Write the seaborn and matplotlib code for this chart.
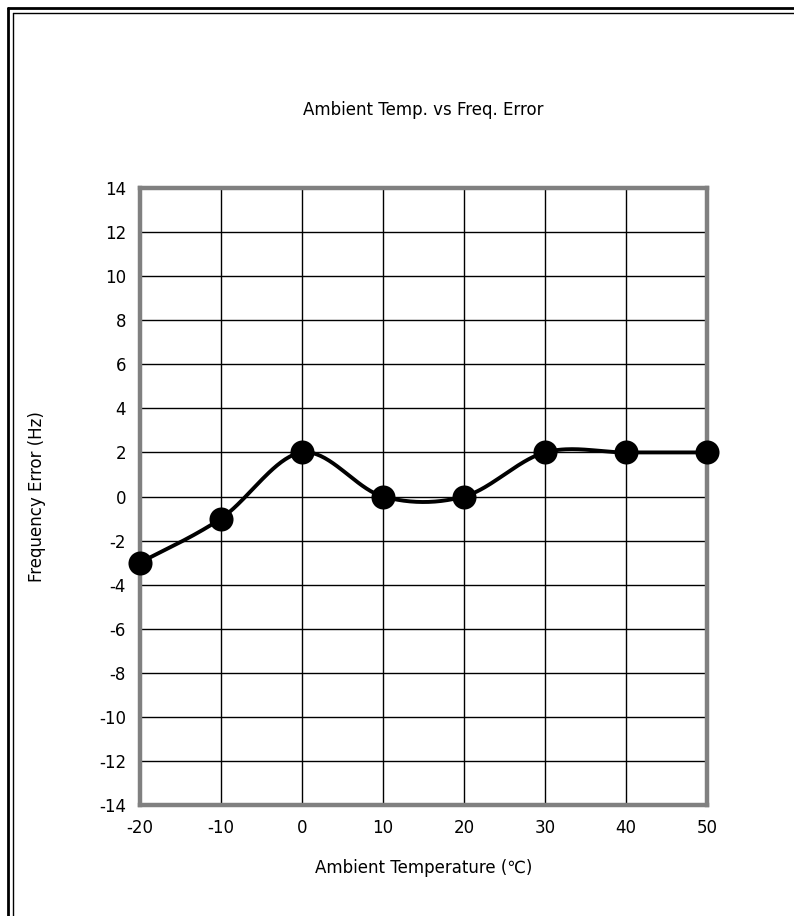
import numpy as np
import pandas as pd
import matplotlib
matplotlib.use("Agg")
import matplotlib.pyplot as plt
import seaborn as sns

temps = [-20, -10, 0, 10, 20, 30, 40, 50]
freq_error = [-3, -1, 2, 0, 0, 2, 2, 2]
x_ticks = [-20, -10, 0, 10, 20, 30, 40, 50]
y_ticks = list(range(-14, 15, 2))
title = "Ambient Temp. vs Freq. Error"
xlabel = "Ambient Temperature (\u2103)"
ylabel = "Frequency Error (Hz)"

def smooth_curve(xs, ys, n=40):
    # Excel-like smoothing: cubic Bezier with Catmull-Rom control points
    xs = np.asarray(xs, float); ys = np.asarray(ys, float)
    px = np.concatenate([[xs[0]], xs, [xs[-1]]])
    py = np.concatenate([[ys[0]], ys, [ys[-1]]])
    outx, outy = [], []
    t = np.linspace(0, 1, n)
    for i in range(1, len(px) - 2):
        p0 = np.array([px[i], py[i]])
        p3 = np.array([px[i + 1], py[i + 1]])
        c1 = p0 + (np.array([px[i + 1], py[i + 1]]) - np.array([px[i - 1], py[i - 1]])) / 6
        c2 = p3 - (np.array([px[i + 2], py[i + 2]]) - np.array([px[i], py[i]])) / 6
        b = ((1 - t)[:, None] ** 3 * p0 + 3 * ((1 - t) ** 2 * t)[:, None] * c1
             + 3 * ((1 - t) * t ** 2)[:, None] * c2 + (t ** 3)[:, None] * p3)
        outx.extend(b[:, 0]); outy.extend(b[:, 1])
    return np.array(outx), np.array(outy)

sns.set_theme(style="white")
plt.rcParams['font.family'] = ['DejaVu Sans']
plt.rcParams['text.color'] = 'black'
plt.rcParams['axes.labelcolor'] = 'black'
plt.rcParams['xtick.color'] = 'black'
plt.rcParams['ytick.color'] = 'black'

fig = plt.figure(figsize=(7.94, 9.16), dpi=100)
ax = fig.add_axes([140 / 794, 1 - 805 / 916, (707 - 140) / 794, (805 - 188) / 916])

cx, cy = smooth_curve(temps, freq_error)
curve = pd.DataFrame({"x": cx, "y": cy})
sns.lineplot(data=curve, x="x", y="y", sort=False, ax=ax, color="black", lw=2.8, zorder=3)
pts = pd.DataFrame({"temp": temps, "err": freq_error})
sns.scatterplot(data=pts, x="temp", y="err", ax=ax, color="black", s=300, edgecolor="black",
                linewidth=0, zorder=4, clip_on=False)

ax.set_xlim(-20, 50)
ax.set_ylim(-14, 14)
ax.set_xticks(x_ticks)
ax.set_yticks(y_ticks)
ax.set_xticklabels([str(v) for v in x_ticks], fontsize=12)
ax.set_yticklabels([str(v) for v in y_ticks], fontsize=12)
ax.grid(True, color="black", linewidth=1.0)
ax.set_axisbelow(True)
for s in ax.spines.values():
    s.set_color("#808080")
    s.set_linewidth(3.2)
    s.set_visible(True)
ax.tick_params(axis="both", length=0, pad=10)
ax.set_xlabel(xlabel, fontsize=12, labelpad=16)
ax.set_ylabel(ylabel, fontsize=12, labelpad=38)
fig.text(0.5 * (140 + 707) / 794, 1 - 110 / 916, title, ha="center", va="center", fontsize=12)

# outer border (double line at left and top)
for off, lw in [(8, 2.0), (13, 1.0)]:
    fig.add_artist(plt.Line2D([off / 794, off / 794], [0, 1 - off / 916], transform=fig.transFigure,
                              color="black", lw=lw))
    fig.add_artist(plt.Line2D([off / 794, 1], [1 - off / 916, 1 - off / 916], transform=fig.transFigure,
                              color="black", lw=lw))

fig.savefig("out.png", dpi=100)
